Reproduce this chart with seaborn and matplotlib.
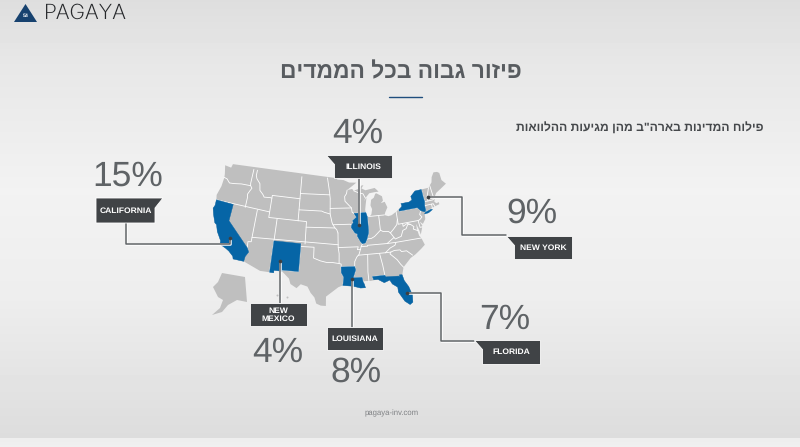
import numpy as np
import pandas as pd
import matplotlib
matplotlib.use("Agg")
import matplotlib.pyplot as plt
import matplotlib.patheffects as pe
import seaborn as sns

# callout values
states = ["CALIFORNIA", "ILLINOIS", "NEW YORK", "FLORIDA", "LOUISIANA", "NEW\nMEXICO"]
shares = ["15%", "4%", "9%", "7%", "8%", "4%"]

title_he = 'פיזור גבוה בכל הממדים'
subtitle_he = 'פילוח המדינות בארה"ב מהן מגיעות ההלוואות'
footer = "pagaya-inv.com"

# map outlines, lon/lat
us_outline = [(-124.7,48.4),(-123.0,48.3),(-122.8,49.0),(-95.15,49.0),(-95.15,49.38),(-94.8,49.3),(-94.6,48.7),
    (-93.0,48.6),(-91.5,48.1),(-89.6,48.0),(-92.1,46.75),(-90.8,46.9),(-90.4,46.55),(-89.0,46.9),(-88.4,47.4),
    (-87.8,47.45),(-88.4,46.9),(-87.4,46.5),(-85.0,46.75),(-84.6,46.45),(-84.1,46.0),(-85.0,46.0),(-86.5,45.9),
    (-87.6,45.1),(-88.0,44.55),(-87.3,45.2),(-87.7,43.8),(-87.9,43.0),(-87.8,42.3),(-87.5,41.65),(-87.0,41.7),
    (-86.5,42.1),(-86.2,43.0),(-86.5,43.7),(-86.2,44.7),(-85.5,45.0),(-85.0,45.7),(-84.7,45.75),(-83.4,45.1),
    (-83.3,44.3),(-83.9,43.9),(-82.9,44.05),(-82.45,43.0),(-83.1,42.2),(-83.4,41.7),(-82.5,41.4),(-81.7,41.5),
    (-80.5,42.0),(-79.0,42.7),(-78.9,43.0),(-79.05,43.27),(-77.0,43.28),(-76.2,43.55),(-76.3,44.2),(-75.0,45.0),
    (-71.5,45.0),(-71.1,45.3),(-70.4,45.8),(-70.0,46.7),(-69.2,47.45),(-68.3,47.35),(-67.8,47.05),(-67.8,45.7),
    (-67.0,44.85),(-68.5,44.3),(-70.0,43.75),(-70.7,43.05),(-70.8,42.7),(-71.0,42.3),(-70.6,41.95),(-70.0,42.05),
    (-70.0,41.65),(-71.2,41.5),(-72.0,41.3),(-73.6,41.0),(-74.0,40.6),(-74.0,40.4),(-74.1,39.7),(-74.9,38.95),
    (-75.5,39.5),(-75.1,38.6),(-75.9,37.15),(-76.0,37.9),(-76.4,39.2),(-76.5,38.3),(-76.3,37.0),(-75.95,36.6),
    (-75.5,35.25),(-76.5,34.65),(-77.9,33.9),(-79.1,33.4),(-80.9,32.0),(-81.4,30.7),(-81.2,29.6),(-80.5,28.4),
    (-80.05,26.8),(-80.2,25.5),(-80.8,25.15),(-81.7,25.9),(-82.7,27.7),(-82.7,28.6),(-83.7,29.3),(-84.1,30.05),
    (-85.3,29.7),(-86.5,30.4),(-88.0,30.25),(-89.3,30.3),(-89.6,30.15),(-89.4,29.8),(-89.2,29.1),(-90.2,29.1),
    (-91.3,29.4),(-92.2,29.55),(-93.8,29.7),(-94.7,29.4),(-95.9,28.6),(-97.2,27.7),(-97.2,26.0),(-98.2,26.05),
    (-99.1,26.4),(-99.5,27.5),(-100.3,28.3),(-101.0,29.4),(-102.4,29.75),(-103.2,29.0),(-104.5,29.65),(-104.9,30.6),
    (-106.5,31.78),(-108.2,31.78),(-108.2,31.33),(-111.07,31.33),(-114.8,32.5),(-117.1,32.53),(-117.3,33.0),
    (-118.4,33.75),(-119.2,34.1),(-120.6,34.55),(-120.65,35.15),(-121.9,36.6),(-122.5,37.75),(-123.0,38.0),
    (-123.8,39.3),(-124.35,40.4),(-124.1,41.0),(-124.2,42.0),(-124.5,42.85),(-124.0,44.6),(-123.95,46.2),(-124.1,46.9)]

state_borders = [
    [(-124,46.25),(-123.2,46.15),(-122.3,45.55),(-121.2,45.65),(-119.3,45.93),(-116.92,46.0)],
    [(-117.03,49),(-117.04,46.42),(-116.92,46.0),(-116.46,45.6),(-116.85,45.0),(-117.2,44.4),(-117.03,43.8),(-117.03,42)],
    [(-124.2,42),(-111.05,42)],
    [(-114.04,42),(-114.04,36.2),(-114.75,36.1),(-114.63,35.0)],
    [(-114.04,37),(-94.62,37)],
    [(-109.05,41),(-109.05,31.33)],
    [(-111.05,45),(-111.05,41),(-102.05,41),(-102.05,37)],
    [(-116.05,49),(-116.05,48),(-115.7,47.45),(-114.7,46.7),(-114.35,45.5),(-113.45,44.9),(-113.0,44.45),(-111.5,44.55),(-111.05,44.5)],
    [(-111.05,45),(-104.05,45)],
    [(-104.05,49),(-104.05,41)],
    [(-104.05,45.94),(-96.56,45.94)],
    [(-104.05,43),(-98.5,43),(-97.9,42.8),(-96.45,42.5)],
    [(-102.05,40),(-95.3,40)],
    [(-103,36.5),(-100,36.5),(-100,34.56),(-98.5,34.1),(-97.2,33.85),(-96,33.85),(-94.48,33.64),(-94.04,33.55),(-94.04,32),(-93.55,31.2),(-93.7,30.1),(-93.8,29.7)],
    [(-103,37),(-103.05,32),(-106.6,32),(-106.5,31.78)],
    [(-94.62,39.1),(-94.62,36.5),(-94.43,35.4),(-94.48,33.64)],
    [(-94.04,33.02),(-91.17,33.0)],
    [(-97.2,49),(-96.6,46.3),(-96.56,45.94),(-96.45,45.3),(-96.45,42.5),(-96.0,41.0),(-95.77,40.58),(-95.3,40),(-94.9,39.7),(-94.62,39.1)],
    [(-96.45,43.5),(-91.22,43.5)],
    [(-95.77,40.58),(-91.73,40.6),(-91.4,40.4)],
    [(-92.1,46.75),(-92.3,46.1),(-92.8,45.6),(-92.75,44.75),(-91.22,43.5),(-91.1,42.7),(-90.65,42.5),(-87.8,42.5)],
    [(-90.65,42.5),(-90.15,41.8),(-91.1,41.2),(-90.95,40.9),(-91.4,40.4),(-91.5,40.0),(-90.7,39.0),(-90.15,38.8),(-90.2,38.4),(-89.5,37.3),(-89.15,37.0),
     (-89.5,36.5),(-89.7,36),(-90.1,35.1),(-90.6,34.7),(-91.1,33.9),(-91.17,33),(-91.0,32.4),(-91.6,31.0),(-89.75,31.0),(-89.6,30.15)],
    [(-94.62,36.5),(-90.15,36.5),(-90.37,36),(-89.7,36)],
    [(-90.4,46.55),(-89.1,46.1),(-88.1,45.9),(-87.6,45.1)],
    [(-87.53,41.7),(-87.53,39.35),(-87.6,38.8),(-88.05,37.8),(-88.5,37.1),(-89.15,37.0)],
    [(-88.05,37.8),(-87.1,37.8),(-86.3,38.1),(-85.4,38.7),(-84.8,39.1),(-84.2,38.8),(-83.0,38.7),(-82.6,38.4),(-81.75,39.0),(-80.85,39.7),(-80.52,40.63)],
    [(-84.8,39.1),(-84.8,41.75)],
    [(-87.0,41.75),(-84.8,41.75),(-83.45,41.72)],
    [(-80.52,42),(-80.52,39.72),(-75.8,39.72),(-75.4,39.8)],
    [(-79.76,42.27),(-79.76,42),(-75.35,42),(-74.7,41.35),(-75.15,40.7),(-74.75,40.2),(-75.4,39.8)],
    [(-75.8,39.72),(-75.7,38.46),(-75.05,38.45)],
    [(-79.48,39.72),(-79.48,39.2),(-78.4,39.6),(-77.7,39.3),(-77.05,38.8),(-77.3,38.4),(-76.3,37.95)],
    [(-77.75,39.3),(-78.35,39.4),(-78.9,38.7),(-79.7,38.5),(-80.3,37.5),(-81.7,37.2),(-81.95,37.5),(-82.6,38.4)],
    [(-81.95,37.5),(-83.67,36.6)],
    [(-75.9,36.55),(-81.68,36.59),(-83.67,36.6),(-88.05,36.65),(-88.07,36.5),(-89.5,36.5)],
    [(-81.68,36.59),(-82.0,36.1),(-83.1,35.75),(-84.3,35.0)],
    [(-84.3,35),(-83.1,35),(-82.3,35.2),(-81.05,35.15),(-80.8,34.82),(-79.67,34.8),(-78.55,33.85)],
    [(-83.1,35),(-83.35,34.7),(-82.0,33.5),(-81.4,32.6),(-80.9,32.0)],
    [(-90.3,35),(-84.3,35)],
    [(-88.2,35),(-88.45,31.9),(-88.4,30.25)],
    [(-85.6,35),(-85.2,32.85),(-85.0,31.0)],
    [(-87.4,30.5),(-87.6,31),(-85,31)],
    [(-73.35,45),(-73.35,43.6),(-73.25,42.75),(-73.5,42.05),(-73.5,41.3),(-73.65,41.0)],
    [(-71.5,45),(-72.4,43.5),(-72.45,42.73)],
    [(-73.27,42.75),(-71.3,42.7),(-70.8,42.87)],
    [(-73.5,42.05),(-71.38,42.02),(-71.2,41.5)],
    [(-71.8,42.02),(-71.85,41.32)],
    [(-71.05,45.3),(-70.95,43.4),(-70.7,43.05)],
]

highlighted = {
    "CA": [(-124.2,42),(-120,42),(-120,39),(-114.63,35.0),(-114.15,34.3),(-114.7,33.4),(-114.8,32.5),(-117.1,32.53),(-117.3,33.0),
           (-118.4,33.75),(-119.2,34.1),(-120.6,34.55),(-120.65,35.15),(-121.9,36.6),(-122.5,37.75),(-123.0,38.0),(-123.8,39.3),(-124.35,40.4),(-124.1,41.0)],
    "NM": [(-109.05,37),(-103,37),(-103,36.5),(-103.05,32),(-106.6,32),(-106.5,31.78),(-108.2,31.78),(-108.2,31.33),(-109.05,31.33)],
    "IL": [(-90.65,42.5),(-87.8,42.5),(-87.53,41.7),(-87.53,39.35),(-87.6,38.8),(-88.05,37.8),(-88.5,37.1),(-89.15,37.0),(-89.5,37.3),(-90.2,38.4),
           (-90.15,38.8),(-90.7,39.0),(-91.5,40.0),(-91.4,40.4),(-90.95,40.9),(-91.1,41.2),(-90.15,41.8)],
    "LA": [(-94.04,33.02),(-91.17,33),(-91,32.4),(-91.6,31),(-89.75,31),(-89.6,30.15),(-89.4,29.8),(-89.2,29.1),(-90.2,29.1),(-91.3,29.4),
           (-92.2,29.55),(-93.8,29.7),(-93.7,30.1),(-93.55,31.2),(-94.04,32)],
    "FL": [(-87.6,31),(-85,31),(-84.85,30.7),(-82.2,30.55),(-82.05,30.35),(-82,30.75),(-81.45,30.7),(-81.2,29.6),(-80.5,28.4),(-80.05,26.8),(-80.2,25.5),
           (-80.8,25.15),(-81.7,25.9),(-82.7,27.7),(-82.7,28.6),(-83.7,29.3),(-84.1,30.05),(-85.3,29.7),(-86.5,30.4),(-87.4,30.4)],
    "NY": [(-79.76,42.27),(-79.76,42),(-75.35,42),(-74.7,41.35),(-73.9,41.0),(-73.65,41),(-73.5,41.3),(-73.5,42.05),(-73.27,42.75),(-73.35,43.6),(-73.35,45),
           (-75,45),(-76.3,44.2),(-76.2,43.55),(-77,43.28),(-79.05,43.27),(-78.9,43),(-79,42.7)],
    "LI": [(-74.0,40.6),(-73.7,40.88),(-72.3,41.15),(-71.9,41.05),(-73.0,40.65)],
}

# pixel outlines for the inset and logo
alaska = [(222,273),(245,277),(247,302),(237,300),(228,305),(222,312),(212,315),(220,308),(223,300),(218,297),(213,287),(218,282)]
hawaii_x = [277, 287]
hawaii_y = [295, 297]

# callout geometry in pixels: box, flag tip side, leader path
boxes = [(96,155,198,223), (334,392,155,178), (514,572,236,259), (482,540,340,364), (327,383,327,350), (250,307,303,326)]
flags = ["right", "left", "left", "left", None, None]
share_xy = [(128,177), (358,134), (532,214), (505,320), (356,373), (278,353)]
leaders = [
    [(126,223),(126,244),(230,244),(230,238)],
    [(359,178),(359,225)],
    [(428,197),(462,197),(462,235),(506,235)],
    [(407,293),(441,293),(441,341),(474,341)],
    [(352,279),(352,327)],
    [(280,261),(280,303)],
]

# slide background, brightness by row
bg_rows = [0, 60, 190, 300, 437, 438, 447]
bg_gray = [0.87, 0.905, 0.95, 0.93, 0.865, 0.93, 0.94]

GRAY = "#5f6366"
BOX = "#404346"
BLUE = "#0665a6"
LAND = "#bfbfbf"
NAVY = "#1f4e7e"


def albers(points):
    # conic projection fitted to the map position in the slide
    lon, lat = np.radians(np.array(points)).T
    p1, p2, p0, l0 = np.radians([29.5, 45.5, 37.5, -96])
    n = (np.sin(p1) + np.sin(p2)) / 2
    c = np.cos(p1) ** 2 + 2 * n * np.sin(p1)
    rho = np.sqrt(c - 2 * n * np.sin(lat)) / n
    rho0 = np.sqrt(c - 2 * n * np.sin(p0)) / n
    theta = n * (lon - l0)
    return 332 + 323 * rho * np.sin(theta), 242 - 318 * (rho0 - rho * np.cos(theta))


def rtl(s):
    # matplotlib has no bidi support
    return s[::-1]


sns.set_theme(style="white")
plt.rcParams["font.family"] = ["Liberation Sans", "DejaVu Sans"]
plt.rcParams["text.hinting"] = "no_hinting"

fig, ax = plt.subplots(figsize=(8, 4.47), dpi=100)
fig.subplots_adjust(0, 0, 1, 1)

bg = np.interp(np.arange(447), bg_rows, bg_gray)[:, None]
ax.imshow(bg, cmap="gray", vmin=0, vmax=1, extent=[0, 800, 447, 0], aspect="auto", zorder=0)

# map
x, y = albers(us_outline)
ax.fill(x, y, color=LAND, lw=0, zorder=1)
for line in state_borders:
    x, y = albers(line)
    ax.plot(x, y, color="white", lw=0.6, zorder=2)
for poly in highlighted.values():
    x, y = albers(poly)
    ax.fill(x, y, facecolor=BLUE, edgecolor=BLUE, lw=0.3, zorder=3)
ax.fill(*zip(*alaska), color=LAND, lw=0, zorder=1)
ax.scatter(hawaii_x, hawaii_y, s=2, color=LAND, lw=0, zorder=1)

# leader lines
rows = [(s, i, px, py) for s, path in zip(states, leaders) for i, (px, py) in enumerate(path)]
df = pd.DataFrame(rows, columns=["state", "step", "x", "y"])
sns.lineplot(data=df, x="x", y="y", units="state", estimator=None, sort=False, color=GRAY,
             lw=1.1, ax=ax, zorder=4, legend=False,
             path_effects=[pe.Stroke(linewidth=1.8, foreground="#ffffff"), pe.Normal()])
ends = pd.DataFrame([p[-1] if i in (0, 1) else p[0] for i, p in enumerate(leaders)], columns=["x", "y"])
sns.scatterplot(data=ends, x="x", y="y", color="#3c3f42", s=7, linewidth=0, ax=ax, zorder=4, legend=False)

# callouts
for name, share, (x0, x1, y0, y1), flag, (tx, ty) in zip(states, shares, boxes, flags, share_xy):
    if flag == "right":
        pts = [(x0, y0), (x1 + 8, y0), (x1, y0 + 10), (x1, y1), (x0, y1)]
    elif flag == "left":
        pts = [(x0 - 8, y0), (x1, y0), (x1, y1), (x0, y1), (x0, y0 + 9)]
    else:
        pts = [(x0, y0), (x1, y0), (x1, y1), (x0, y1)]
    ax.fill(*zip(*pts), facecolor=BOX, edgecolor="white", lw=0.6, zorder=5)
    ax.text((x0 + x1) / 2, (y0 + y1) / 2 + 0.3, name, color="white", fontsize=6.1, fontweight="bold",
            ha="center", va="center", linespacing=1.15, zorder=6)
    ax.text(tx, ty, share, color=GRAY, fontsize=25.5, ha="center", va="center", zorder=6)

# headings
ax.text(401, 72, rtl(title_he), color="#585c60", fontsize=16.4, fontweight="bold", ha="center", va="center")
ax.plot([389, 422], [97, 97], color=NAVY, lw=1.0)
ax.text(764, 128, rtl(subtitle_he), color="#45484b", fontsize=8.7, fontweight="bold", ha="right", va="center")
ax.text(392, 413, footer, color="#808285", fontsize=5.6, ha="center", va="center")

# logo
ax.fill([14, 25.5, 37], [22, 4, 22], color="#17426f", lw=0, zorder=2)
ax.text(25.5, 16, "54", color="white", fontsize=3.8, fontweight="bold", ha="center", va="center", zorder=3)
ax.text(44, 13.5, "PAGAYA", color="#26282b", fontsize=15, family="Inter", fontweight="light", ha="left", va="center")

ax.set_xlim(0, 800)
ax.set_ylim(447, 0)
ax.set_axis_off()

fig.savefig("out.png", dpi=100)
plt.close(fig)
